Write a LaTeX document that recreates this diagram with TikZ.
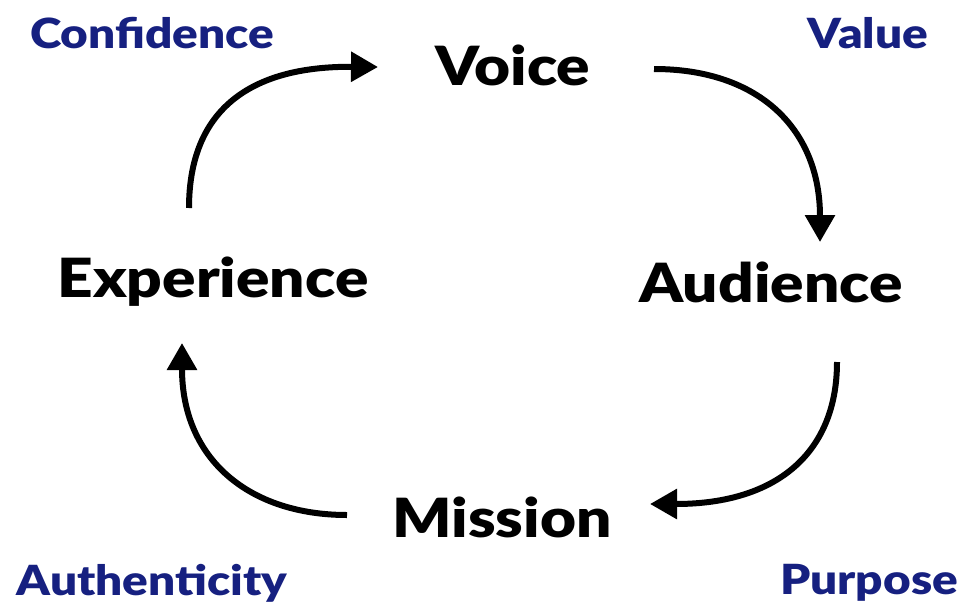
\documentclass[tikz,border=0pt]{standalone}
\usepackage{fontspec}
\setmainfont{Lato}[BoldFont={Lato Black}, BoldFeatures={FakeStretch=1.15}]
\usetikzlibrary{arrows.meta}
\definecolor{labelblue}{RGB}{22,32,128}
\tikzset{
  mainlabel/.style={font=\fontsize{54}{60}\selectfont\bfseries, text=black, inner sep=0pt},
  sidelabel/.style={font=\fontsize{41.5}{46}\selectfont\bfseries, text=labelblue, inner sep=0pt},
  cyclearrow/.style={line width=6pt, -{Triangle[length=27pt,width=29pt]}}
}
\begin{document}
\begin{tikzpicture}[x=1pt,y=-1pt]
\useasboundingbox (0,0) rectangle (960,608);
\node[mainlabel] (voice) at (513,65) {Voice};
\node[mainlabel] (experience) at (213,282) {Experience};
\node[mainlabel] (audience) at (771,282) {Audience};
\node[mainlabel] (mission) at (502,517) {Mission};
\node[sidelabel] (confidence) at (152,33) {Confidence};
\node[sidelabel] (value) at (868,33) {Value};
\node[sidelabel] (authenticity) at (152,583) {Authenticity};
\node[sidelabel] (purpose) at (869,583) {Purpose};
\coordinate (a1) at (189,208);
\coordinate (a2) at (378,67);
\coordinate (b1) at (654,69);
\coordinate (b2) at (820,242);
\coordinate (c1) at (837,362);
\coordinate (c2) at (650,504);
\coordinate (d1) at (347,515);
\coordinate (d2) at (182,343);
\draw[cyclearrow] (a1) .. controls (189,110) and (250,66) .. (a2);
\draw[cyclearrow] (b1) .. controls (760,69) and (820,130) .. (b2);
\draw[cyclearrow] (c1) .. controls (837,450) and (780,504) .. (c2);
\draw[cyclearrow] (d1) .. controls (250,515) and (182,460) .. (d2);
\end{tikzpicture}
\end{document}
